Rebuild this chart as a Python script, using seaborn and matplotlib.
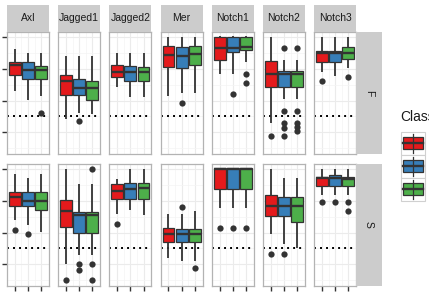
import pandas as pd
import seaborn as sns
import matplotlib.pyplot as plt
from matplotlib.patches import Rectangle
from matplotlib.lines import Line2D

genes = ["Axl", "Jagged1", "Jagged2", "Mer", "Notch1", "Notch2", "Notch3"]
tissues = ["F", "S"]
classes = ["1", "2", "3"]
palette = ["#E41A1C", "#377EB8", "#4DAF4A"]

# five-number summaries, gene by gene, classes 1-2-3
f_low = [2.29, 2.02, 2.14, 1.42, 1.60, 1.58, 2.42, 2.10, 2.10, 2.13, 2.23, 2.23,
         2.85, 2.85, 3.22, 1.28, 2.05, 2.05, 2.90, 2.76, 3.01]
f_q1 = [2.79, 2.67, 2.67, 2.18, 2.18, 2.03, 2.74, 2.63, 2.63, 3.06, 3.01, 3.11,
        3.29, 3.53, 3.59, 2.44, 2.44, 2.44, 3.20, 3.20, 3.30]
f_med = [3.11, 2.95, 2.95, 2.60, 2.40, 2.40, 2.90, 2.90, 2.90, 3.43, 3.40, 3.45,
         3.64, 3.64, 3.69, 2.85, 2.83, 2.83, 3.48, 3.48, 3.50]
f_q3 = [3.22, 3.22, 3.08, 2.79, 2.69, 2.60, 3.11, 3.09, 3.06, 3.72, 3.69, 3.72,
        4.01, 4.01, 4.01, 3.24, 2.93, 2.93, 3.56, 3.56, 3.67]
f_high = [3.61, 3.48, 3.48, 3.40, 3.40, 3.40, 3.48, 3.48, 3.48, 3.99, 3.99, 3.99,
          4.03, 4.03, 4.03, 4.01, 3.29, 3.29, 4.01, 4.01, 4.01]

s_low = [2.38, 2.25, 2.01, 1.00, 1.31, 1.31, 2.59, 2.72, 2.54, 1.21, 1.10, 1.10,
         2.77, 2.77, 2.77, 1.94, 1.65, 1.52, 3.19, 3.19, 3.19]
s_q1 = [2.82, 2.82, 2.70, 2.18, 1.99, 1.99, 3.06, 3.06, 3.06, 1.70, 1.70, 1.70,
        3.38, 3.38, 3.38, 2.53, 2.53, 2.32, 3.47, 3.47, 3.47]
s_med = [3.13, 2.98, 2.98, 2.67, 2.54, 2.54, 3.32, 3.37, 3.40, 1.96, 1.94, 1.94,
         3.99, 3.99, 3.99, 2.82, 2.84, 2.82, 3.71, 3.71, 3.68]
s_q3 = [3.26, 3.26, 3.26, 3.01, 2.65, 2.65, 3.52, 3.55, 3.55, 2.15, 2.12, 2.12,
        4.02, 4.02, 4.02, 3.19, 3.12, 3.12, 3.74, 3.81, 3.76]
s_high = [3.83, 3.71, 3.83, 4.00, 3.53, 3.53, 3.68, 4.00, 4.00, 2.59, 2.59, 2.69,
          4.03, 4.03, 4.03, 4.00, 3.73, 3.73, 4.00, 4.00, 4.00]

# outlying points
out_gene = (["Axl", "Jagged1", "Mer", "Notch1", "Notch1", "Notch1"] + ["Notch2"] * 11
            + ["Notch3", "Notch3"]
            + ["Axl", "Axl", "Jagged1", "Jagged1", "Jagged1", "Jagged1", "Jagged1", "Jagged1",
               "Jagged2", "Mer", "Mer", "Notch1", "Notch1", "Notch1", "Notch2", "Notch2",
               "Notch3", "Notch3", "Notch3", "Notch3"])
out_class = (["3", "2", "2", "2", "3", "3", "1", "2", "2", "2", "2", "2", "3", "3", "3", "3", "3",
              "1", "3"]
             + ["1", "2", "1", "2", "2", "3", "3", "3", "1", "2", "3", "1", "2", "3", "1", "2",
                "1", "2", "3", "3"])
out_value = ([1.61, 1.37, 1.93, 2.21, 2.85, 2.56, 0.89, 3.66, 1.68, 1.31, 1.15, 0.89,
              3.66, 1.68, 1.31, 1.17, 1.05, 2.63, 2.74]
             + [2.09, 1.97, 0.50, 1.02, 0.81, 4.00, 1.00, 0.50, 2.28, 2.80, 0.90, 2.13, 2.13,
                2.13, 1.34, 1.34, 2.96, 2.96, 2.96, 2.69])
out_tissue = ["F"] * 19 + ["S"] * 20

rows = []
stats = {"F": (f_low, f_q1, f_med, f_q3, f_high), "S": (s_low, s_q1, s_med, s_q3, s_high)}
for t in tissues:
    for i, g in enumerate(genes):
        for j, c in enumerate(classes):
            for arr in stats[t]:
                rows.append((t, g, c, arr[i * 3 + j]))
boxes = pd.DataFrame(rows, columns=["Tissue", "Gene", "Class", "Value"])
outs = pd.DataFrame({"Tissue": out_tissue, "Gene": out_gene, "Class": out_class, "Value": out_value})

plt.rcParams["font.family"] = ["Liberation Sans", "DejaVu Sans"]
W, H = 429, 297
fig = plt.figure(figsize=(W / 100, H / 100), dpi=100)

def px(x0, y0, x1, y1):
    return [x0 / W, 1 - y1 / H, (x1 - x0) / W, (y1 - y0) / H]

lefts = [7 + k * 51.2 for k in range(7)]
pw = 42
row_top = [31.5, 163.5]
ph = 122.5
dark = "#333333"

for r, t in enumerate(tissues):
    for c, g in enumerate(genes):
        x0 = lefts[c]
        y0 = row_top[r]
        ax = fig.add_axes(px(x0, y0, x0 + pw, y0 + ph))
        sub = boxes[(boxes.Tissue == t) & (boxes.Gene == g)]
        sns.boxplot(data=sub, x="Class", y="Value", hue="Class", order=classes,
                    hue_order=classes, palette=palette, saturation=1, width=0.9,
                    whis=(0, 100), showfliers=False, showcaps=False, linewidth=0.9,
                    linecolor=dark, medianprops=dict(linewidth=1.7),
                    whiskerprops=dict(linewidth=1.3), legend=False, ax=ax, zorder=3)
        osub = outs[(outs.Tissue == t) & (outs.Gene == g)]
        if len(osub):
            sns.stripplot(data=osub, x="Class", y="Value", order=classes, jitter=False,
                          color=dark, size=4.5, linewidth=0, ax=ax, zorder=4)
        ax.axhline(1.5, color="black", linestyle=(0, (1, 2.1)), linewidth=1.4, zorder=2)
        ax.set_xlim(-0.6, 2.6)
        ax.set_ylim(0.32, 4.17)
        ax.set_xticks([0, 1, 2])
        ax.set_xticks([0.5, 1.5], minor=True)
        ax.set_yticks([1, 2, 3, 4])
        ax.set_yticks([0.5, 1.5, 2.5, 3.5], minor=True)
        ax.grid(which="major", color="#ebebeb", linewidth=0.8)
        ax.grid(which="minor", color="#f4f4f4", linewidth=0.5)
        ax.set_axisbelow(True)
        ax.set_xticklabels([])
        ax.set_yticklabels([])
        ax.set_xlabel("")
        ax.set_ylabel("")
        ax.tick_params(which="both", length=0)
        if c == 0:
            ax.tick_params(axis="y", which="major", length=3.5, width=1.0, color=dark)
        if r == 1:
            ax.tick_params(axis="x", which="major", length=3.5, width=1.0, color=dark)
        for sp in ax.spines.values():
            sp.set_color("#b3b3b3")
            sp.set_linewidth(0.9)

        if r == 0:
            sax = fig.add_axes(px(x0, 5, x0 + pw, 31.5))
            sax.set_facecolor("#cccccc")
            sax.set_xticks([])
            sax.set_yticks([])
            for sp in sax.spines.values():
                sp.set_visible(False)
            sax.text(0.5, 0.5, g, ha="center", va="center", fontsize=7.5,
                     color="#1a1a1a", transform=sax.transAxes)

    rax = fig.add_axes(px(356, row_top[r], 382, row_top[r] + ph))
    rax.set_facecolor("#cccccc")
    rax.set_xticks([])
    rax.set_yticks([])
    for sp in rax.spines.values():
        sp.set_visible(False)
    rax.text(0.5, 0.5, t, ha="center", va="center", fontsize=7.5, rotation=-90,
             color="#1a1a1a", transform=rax.transAxes)

# legend (cut at the right edge, as in the source image)
fig.text(400 / W, 1 - 117 / H, "Class", ha="left", va="center", fontsize=10, color="#1a1a1a")
key_tops = [131.5, 154.5, 177.5]
for k, col in enumerate(palette):
    yt = key_tops[k]
    fig.patches.append(Rectangle((401 / W, 1 - (yt + 23) / H), 24 / W, 23 / H,
                                 transform=fig.transFigure, facecolor="white",
                                 edgecolor="#d0d0d0", linewidth=0.8))
    cy = yt + 11.5
    fig.lines.append(Line2D([413 / W, 413 / W], [1 - (yt + 2) / H, 1 - (yt + 21) / H],
                            transform=fig.transFigure, color=dark, linewidth=0.9))
    fig.patches.append(Rectangle((403 / W, 1 - (cy + 6) / H), 20 / W, 12 / H,
                                 transform=fig.transFigure, facecolor=col,
                                 edgecolor=dark, linewidth=0.9))
    fig.lines.append(Line2D([403 / W, 423 / W], [1 - cy / H, 1 - cy / H],
                            transform=fig.transFigure, color=dark, linewidth=1.7))

fig.savefig("out.png", dpi=100)
